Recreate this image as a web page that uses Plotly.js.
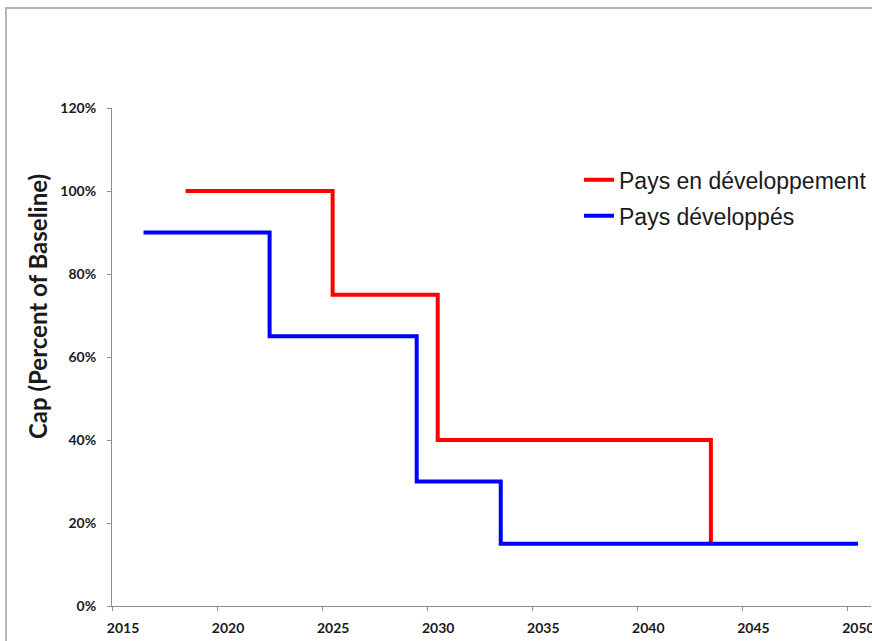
<!DOCTYPE html>
<html>
<head>
<meta charset="utf-8">
<script src="https://cdn.plot.ly/plotly-3.0.1.min.js"></script>
<style>
  html, body { margin: 0; padding: 0; overflow: hidden; background: #fff; }
  #chart { width: 872px; height: 641px; }
  #frame { position: absolute; left: 5px; top: 7px; width: 1000px; height: 1000px;
           border-left: 2px solid #b4b4b4; border-top: 2px solid #b4b4b4; pointer-events: none; }
</style>
</head>
<body>
<div id="chart"></div>
<div id="frame"></div>
<script>
// Series names
const seriesNames = ["Pays en développement", "Pays développés"];
// Step change points (year of change, cap as share of baseline)
const devYears = [2018.5, 2025.5, 2030.5, 2043.5];
const devCaps  = [1.00, 0.75, 0.40, 0.15];
const dvdYears = [2016.5, 2022.5, 2029.5, 2033.5, 2050.5];
const dvdCaps  = [0.90, 0.65, 0.30, 0.15, 0.15];
// Axis ticks
const xTicks = [2015, 2020, 2025, 2030, 2035, 2040, 2045, 2050];
const yTicks = [0, 0.2, 0.4, 0.6, 0.8, 1.0, 1.2];
const yTitle = "Cap (Percent of Baseline)";

const traces = [
  { x: devYears, y: devCaps, name: seriesNames[0], mode: "lines", legendgroup: "g1",
    line: { color: "#ff0000", width: 4, shape: "hv" } },
  { x: dvdYears, y: dvdCaps, name: seriesNames[1], mode: "lines", legendgroup: "g2",
    line: { color: "#0000ff", width: 4, shape: "hv" } }
];

const tickFont = { family: "Lato, 'Open Sans', sans-serif", size: 14, color: "#1a1a1a", weight: "bold" };

const layout = {
  width: 872, height: 641,
  margin: { l: 112, r: 0, t: 108, b: 35, pad: 0 },
  paper_bgcolor: "#fff", plot_bgcolor: "#fff",
  showlegend: true,
  legend: {
    x: 0.615, y: 0.899, xanchor: "left", yanchor: "top",
    traceorder: "grouped", tracegroupgap: 3,
    font: { family: "'Liberation Sans', Arial, sans-serif", size: 23, color: "#1a1a1a" },
    bgcolor: "rgba(0,0,0,0)", borderwidth: 0
  },
  xaxis: {
    range: [2015, 2051.12], tickvals: xTicks, ticktext: xTicks.map(String),
    showgrid: false, zeroline: false, showline: true, linecolor: "#8c8c8c", linewidth: 1,
    ticks: "outside", ticklen: 4, tickcolor: "#8c8c8c", tickfont: tickFont,
    ticklabelshift: 11, ticklabelstandoff: 5,
    ticklabeloverflow: "allow", fixedrange: true
  },
  yaxis: {
    range: [0, 1.2], tickvals: yTicks, tickformat: ".0%",
    showgrid: false, zeroline: false, showline: true, linecolor: "#8c8c8c", linewidth: 1,
    ticks: "outside", ticklen: 4, tickcolor: "#8c8c8c", tickfont: tickFont,
    ticklabelstandoff: 8, fixedrange: true
  },
  annotations: [{
    text: yTitle, textangle: -90, showarrow: false,
    xref: "paper", yref: "paper", x: -0.0987, y: 0.6004, xanchor: "center", yanchor: "middle",
    font: { family: "Lato, 'Open Sans', sans-serif", size: 24, color: "#1a1a1a", weight: "bold" }
  }]
};

Plotly.newPlot("chart", traces, layout, { displayModeBar: false, staticPlot: true });
</script>
</body>
</html>
